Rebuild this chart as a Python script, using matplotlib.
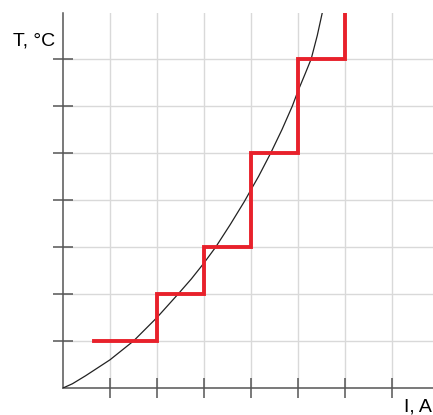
import matplotlib.pyplot as plt

plt.rcParams['font.family'] = ['Liberation Sans', 'DejaVu Sans']

# Temperature vs current: measured curve and stepped regulation
curve_i = [0, 0.2, 0.48, 1.0, 1.5, 2.0, 2.45, 2.73, 3.0, 3.25, 3.56, 3.86, 4.0,
           4.16, 4.42, 4.66, 4.88, 5.0, 5.15, 5.28, 5.41, 5.52]
curve_t = [0, 0.09, 0.26, 0.60, 1.0, 1.5, 2.0, 2.32, 2.66, 3.0, 3.48, 3.97, 4.22,
           4.5, 5.0, 5.5, 6.0, 6.32, 6.68, 7.0, 7.5, 8.0]

step_i = [0.65, 2, 3, 4, 5, 6]
step_t = [1, 2, 3, 5, 7, 8.2]

x_ticks = [1, 2, 3, 4, 5, 6, 7]
y_ticks = [1, 2, 3, 4, 5, 6, 7]

W, H = 433, 415
fig = plt.figure(figsize=(W / 100, H / 100), dpi=100)
ax = fig.add_axes([63 / W, (H - 388) / H, (W - 63) / W, (388 - 13) / H])

ax.set_xlim(0, 370 / 47)
ax.set_ylim(0, 375 / 47)

# light grid
for x in x_ticks:
    ax.axvline(x, color='#d9d9d9', lw=1.0, zorder=1)
for y in y_ticks:
    ax.axhline(y, color='#d9d9d9', lw=1.0, zorder=1)

ax.plot(curve_i, curve_t, color='#222222', lw=0.9, zorder=3)
ax.step(step_i, step_t, where='post', color='#e8212b', lw=2.8,
        solid_joinstyle='miter', zorder=4)

for side in ['top', 'right']:
    ax.spines[side].set_visible(False)
for side in ['left', 'bottom']:
    ax.spines[side].set_color('#555555')
    ax.spines[side].set_linewidth(1.1)

ax.set_xticks(x_ticks)
ax.set_yticks(y_ticks)
ax.set_xticklabels([])
ax.set_yticklabels([])
ax.tick_params(direction='inout', length=14, width=1.1, color='#555555')

fig.text(55 / W, 1 - 41 / H, 'T, °C', ha='right', va='center', fontsize=14)
fig.text(432 / W, 1 - 407 / H, 'I, A', ha='right', va='center', fontsize=14)

fig.savefig('out.png', dpi=100)
